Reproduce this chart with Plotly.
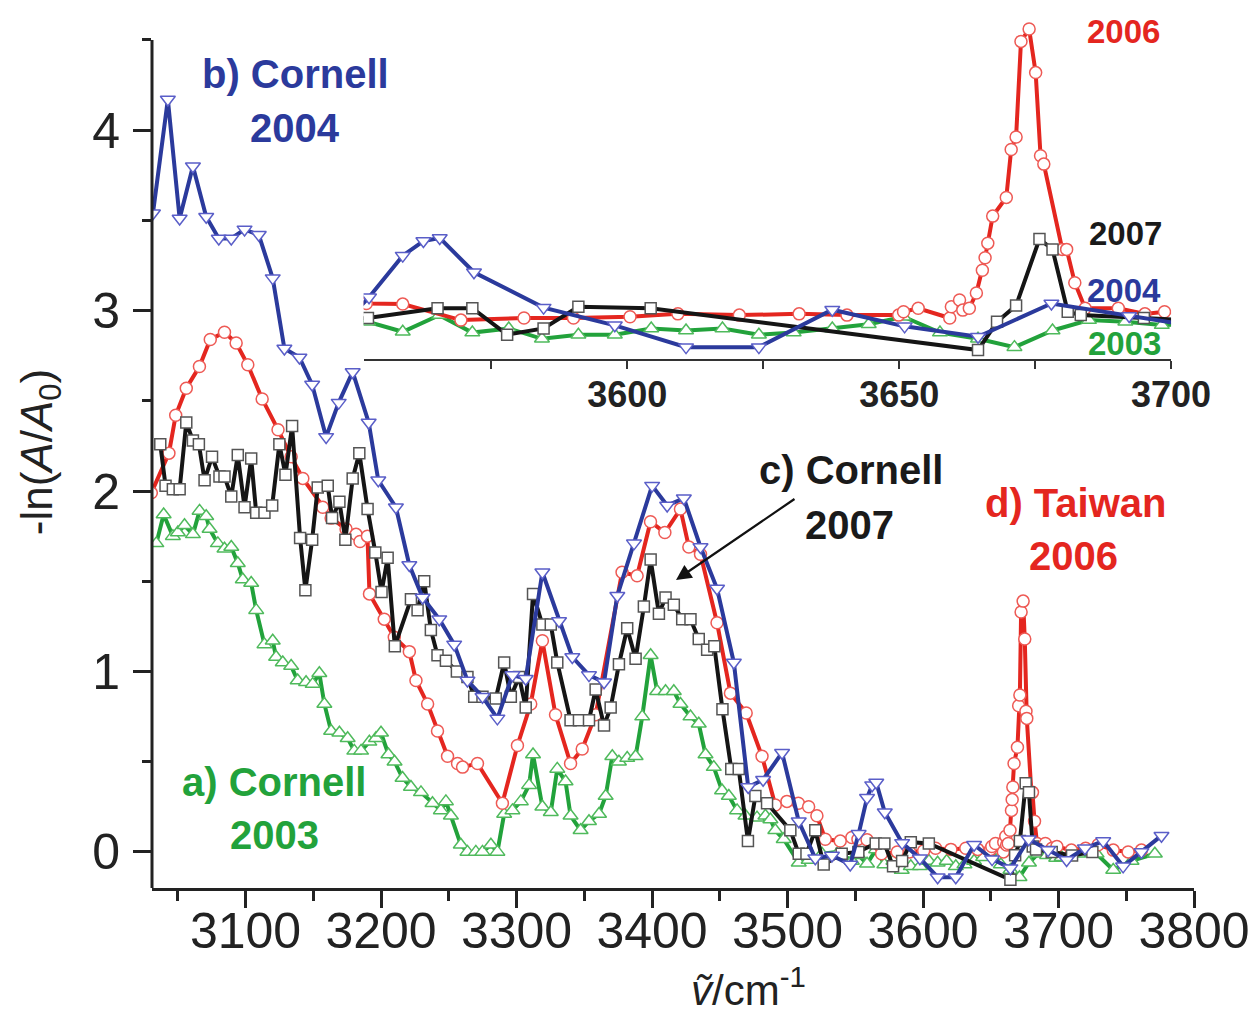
import plotly.graph_objects as go

# ---------------- data ----------------
x_2003 = [3034.2, 3039.6, 3046.4, 3050.1, 3055.0, 3061.2, 3066.1, 3071.0, 3073.5, 3079.6,
          3084.5, 3089.5, 3094.3, 3098.0, 3104.2, 3107.9, 3114.0, 3120.1, 3122.6, 3127.5,
          3133.7, 3138.5, 3144.7, 3149.6, 3154.5, 3158.2, 3163.2, 3169.3, 3175.4, 3180.3,
          3185.3, 3191.4, 3196.3, 3200.0, 3205.5, 3210.0, 3215.9, 3222.1, 3229.5, 3238.0,
          3244.2, 3247.9, 3251.6, 3258.9, 3263.8, 3270.0, 3274.9, 3281.1, 3285.9, 3290.9,
          3297.0, 3303.2, 3309.3, 3312.2, 3319.1, 3325.3, 3330.1, 3336.2, 3339.9, 3347.3,
          3353.5, 3360.9, 3365.8, 3370.7, 3375.6, 3381.7, 3387.9, 3392.8, 3399.0, 3403.8,
          3410.0, 3416.1, 3421.0, 3428.4, 3434.5, 3439.5, 3445.6, 3451.7, 3456.7, 3462.8,
          3469.0, 3477.5, 3483.7, 3487.4, 3491.0, 3497.2, 3508.3, 3515.6, 3525.4, 3537.7,
          3547.5, 3552.3, 3558.7, 3565.4, 3571.5, 3578.2, 3584.3, 3591.0, 3597.7, 3604.4,
          3610.8, 3617.5, 3624.2, 3630.6, 3637.7, 3644.4, 3650.8, 3657.5, 3664.5, 3671.2,
          3678.2, 3684.9, 3691.6, 3698.3, 3702.3, 3714.6, 3728.1, 3740.4, 3753.9, 3771.1]
y_2003 = [1.71, 1.87, 1.75, 1.77, 1.81, 1.76, 1.89, 1.86, 1.79, 1.71,
          1.68, 1.69, 1.60, 1.51, 1.49, 1.34, 1.15, 1.17, 1.08, 1.05,
          1.03, 0.95, 0.94, 0.93, 0.99, 0.82, 0.67, 0.66, 0.63, 0.56,
          0.56, 0.61, 0.63, 0.66, 0.54, 0.50, 0.41, 0.36, 0.33, 0.27,
          0.23, 0.28, 0.20, 0.04, 0.00, 0.00, 0.00, 0.04, 0.00, 0.21,
          0.23, 0.28, 0.37, 0.54, 0.25, 0.22, 0.46, 0.39, 0.20, 0.12,
          0.17, 0.21, 0.31, 0.53, 0.50, 0.52, 0.53, 0.75, 1.09, 0.89,
          0.89, 0.89, 0.82, 0.75, 0.71, 0.54, 0.47, 0.34, 0.31, 0.23,
          0.20, 0.19, 0.20, 0.18, 0.12, 0.07, -0.06, -0.045, -0.01, 0.00,
          -0.05, -0.018, -0.066, 0.014, -0.07, -0.05, -0.10, -0.08, -0.08, -0.05,
          -0.06, -0.05, -0.08, -0.07, -0.05, -0.03, 0.006, -0.07, -0.10, -0.14,
          -0.06, -0.01, -0.018, -0.034, -0.03, -0.01, -0.01, -0.10, -0.05, -0.01]

x_2004 = [3031.7, 3042.7, 3051.4, 3061.2, 3071.0, 3080.3, 3089.5, 3099.3, 3109.8, 3120.1,
          3128.7, 3139.8, 3149.2, 3159.5, 3168.8, 3179.1, 3190.9, 3198.0, 3211.0, 3220.9,
          3230.7, 3243.0, 3254.0, 3263.8, 3274.9, 3285.9, 3297.0, 3306.8, 3319.1, 3331.4,
          3341.2, 3353.5, 3364.6, 3374.4, 3386.7, 3400.1, 3411.2, 3423.5, 3435.8, 3448.0,
          3460.4, 3471.0, 3482.0, 3496.0, 3508.3, 3520.5, 3532.8, 3546.3, 3552.5, 3558.7,
          3562.5, 3565.5, 3571.8, 3584.6, 3597.7, 3610.8, 3624.2, 3637.7, 3651.0, 3664.5,
          3678.0, 3692.3, 3706.0, 3719.5, 3733.0, 3747.7, 3761.2, 3776.0]
y_2004 = [3.54, 4.17, 3.51, 3.80, 3.52, 3.40, 3.40, 3.45, 3.42, 3.18,
          2.79, 2.74, 2.59, 2.30, 2.49, 2.66, 2.38, 2.06, 1.91, 1.59,
          1.41, 1.29, 1.15, 0.95, 0.86, 0.74, 0.98, 0.96, 1.55, 1.28,
          1.08, 0.98, 0.94, 1.42, 1.71, 2.03, 1.92, 1.96, 1.69, 1.46,
          1.05, 0.36, 0.40, 0.55, 0.17, -0.035, -0.02, -0.07, 0.10, 0.30,
          0.37, 0.385, 0.22, 0.05, -0.035, -0.14, -0.14, 0.04, -0.04, -0.09,
          0.07, 0.01, -0.045, 0.02, 0.06, -0.08, 0.00, 0.09]

x_2007 = [3037.1, 3041.0, 3046.4, 3051.4, 3056.3, 3061.2, 3065.6, 3069.8, 3075.3, 3080.8,
          3084.5, 3089.5, 3094.3, 3099.3, 3104.2, 3107.9, 3114.0, 3119.7, 3125.0, 3129.5,
          3134.4, 3140.3, 3144.2, 3149.2, 3153.3, 3160.7, 3163.9, 3169.3, 3173.7, 3179.1,
          3184.0, 3190.1, 3195.8, 3200.4, 3204.9, 3210.2, 3222.1, 3227.0, 3231.9, 3236.8,
          3241.7, 3247.9, 3256.0, 3263.8, 3268.8, 3274.9, 3284.7, 3290.9, 3295.8, 3301.9,
          3306.8, 3312.2, 3319.1, 3325.3, 3330.1, 3339.9, 3346.1, 3353.5, 3358.4, 3364.6,
          3369.5, 3375.6, 3381.7, 3387.9, 3394.0, 3399.0, 3405.1, 3410.0, 3416.1, 3422.3,
          3428.4, 3434.5, 3440.7, 3446.0, 3452.0, 3458.5, 3464.0, 3470.8, 3476.3, 3484.9,
          3502.1, 3508.3, 3514.0, 3520.5, 3526.7, 3540.0, 3552.3, 3565.1, 3571.5, 3577.9,
          3584.6, 3591.0, 3604.3, 3664.5, 3668.0, 3671.5, 3675.8, 3678.2, 3681.0, 3683.4,
          3695.0, 3710.0, 3725.0]
y_2007 = [2.26, 2.03, 2.01, 2.01, 2.38, 2.28, 2.26, 2.06, 2.19, 2.08,
          2.08, 1.97, 2.20, 1.91, 2.18, 1.88, 1.88, 1.92, 2.26, 2.09,
          2.36, 1.74, 1.45, 1.73, 2.02, 2.03, 1.85, 1.94, 1.73, 2.07,
          2.21, 1.90, 1.66, 1.44, 1.63, 1.14, 1.40, 1.34, 1.50, 1.23,
          1.09, 1.06, 1.00, 0.97, 0.86, 0.86, 0.85, 1.05, 0.86, 0.97,
          0.80, 1.43, 1.26, 1.26, 1.05, 0.73, 0.73, 0.73, 0.90, 0.70,
          0.80, 1.04, 1.24, 1.07, 1.36, 1.62, 1.32, 1.41, 1.37, 1.29,
          1.29, 1.18, 1.12, 1.14, 0.79, 0.46, 0.46, 0.06, 0.31, 0.27,
          0.12, -0.01, -0.01, 0.12, -0.07, -0.01, 0.00, 0.047, 0.047, -0.08,
          -0.05, 0.054, 0.047, -0.154, -0.018, 0.06, 0.38, 0.33, 0.03, 0.014,
          0.00, -0.02, 0.00]

x_2006 = [3030.5, 3043.5, 3048.5, 3056.3, 3066.0, 3074.0, 3084.5, 3093.1, 3101.7, 3112.3,
          3124.0, 3133.7, 3142.3, 3157.0, 3163.2, 3174.2, 3181.6, 3184.5, 3190.0, 3191.5,
          3202.4, 3209.8, 3220.9, 3225.8, 3234.4, 3241.7, 3249.1, 3256.5, 3260.2, 3271.2,
          3289.6, 3300.7, 3310.5, 3319.1, 3328.8, 3339.9, 3348.5, 3358.4, 3377.9, 3389.0,
          3398.9, 3409.5, 3421.0, 3427.2, 3435.8, 3448.0, 3457.9, 3469.5, 3481.2, 3491.0,
          3499.6, 3508.0, 3515.6, 3521.7, 3527.9, 3538.9, 3547.5, 3552.0, 3558.7, 3569.4,
          3581.0, 3590.1, 3600.5, 3609.3, 3620.6, 3631.6, 3640.4, 3649.9, 3650.8, 3653.5,
          3659.3, 3659.6, 3661.1, 3661.7, 3662.9, 3664.2, 3665.3, 3665.8, 3666.3, 3667.2,
          3669.7, 3670.6, 3671.5, 3672.4, 3673.9, 3675.1, 3676.0, 3676.6, 3680.0, 3680.8,
          3682.3, 3684.2, 3690.3, 3695.2, 3698.8, 3709.5, 3720.0, 3729.3, 3740.4, 3751.4,
          3761.2]
y_2006 = [1.99, 2.21, 2.42, 2.57, 2.69, 2.84, 2.88, 2.82, 2.70, 2.51,
          2.34, 2.19, 2.07, 1.91, 1.85, 1.79, 1.76, 1.72, 1.75, 1.43,
          1.29, 1.19, 1.11, 0.95, 0.82, 0.67, 0.53, 0.49, 0.47, 0.49,
          0.27, 0.59, 0.82, 1.17, 0.76, 0.49, 0.57, 0.76, 1.55, 1.53,
          1.83, 1.77, 1.90, 1.69, 1.65, 1.27, 0.88, 0.77, 0.53, 0.26,
          0.28, 0.27, 0.25, 0.20, 0.07, 0.06, 0.08, 0.07, 0.067, -0.01,
          0.00, 0.00, 0.006, 0.02, 0.014, 0.02, 0.014, 0.014, 0.03, 0.047,
          0.00, 0.054, 0.087, 0.038, 0.047, 0.12, 0.23, 0.29, 0.36, 0.49,
          0.58, 0.81, 0.87, 1.33, 1.39, 1.18, 0.78, 0.74, 0.33, 0.33,
          0.17, 0.047, 0.047, 0.02, 0.03, 0.01, 0.02, 0.04, 0.01, 0.00,
          0.01]

x_ticks_main = [3100, 3200, 3300, 3400, 3500, 3600, 3700, 3800]
y_ticks_main = [0, 1, 2, 3, 4]
x_ticks_inset = [3600, 3650, 3700]

FONT = "Liberation Sans, Arial, Helvetica, sans-serif"

series = [
    # name, x, y, line colour, marker edge colour, symbol, size
    ("2003", x_2003, y_2003, "#22a23b", "#4fba5c", "triangle-up", 13),
    ("2006", x_2006, y_2006, "#e4261f", "#ee5a55", "circle", 12),
    ("2007", x_2007, y_2007, "#151515", "#555555", "square", 11),
    ("2004", x_2004, y_2004, "#2b3a9c", "#5a5ec8", "triangle-down", 13),
]

fig = go.Figure()
for axes in (("x", "y"), ("x2", "y2")):
    for name, xs, ys, lc, mc, sym, sz in series:
        fig.add_trace(go.Scatter(
            x=xs, y=ys, mode="lines+markers", name=name,
            xaxis=axes[0], yaxis=axes[1],
            line=dict(color=lc, width=4),
            marker=dict(symbol=sym, size=sz, color="white",
                        line=dict(color=mc, width=1.5)),
            showlegend=False, hoverinfo="skip"))

# pixel helpers for annotation placement (plot area: x 152..1196, y 10..888)
def px(xp):
    return (xp - 152) / 1044.0

def py(yp):
    return (888 - yp) / 878.0

ann = []
def label(text, xp, yp, color, size):
    ann.append(dict(text="<b>%s</b>" % text, x=px(xp), y=py(yp), xref="paper", yref="paper",
                    xanchor="center", yanchor="middle", showarrow=False,
                    font=dict(family=FONT, size=size, color=color)))

BLUE, GREEN, BLACK, RED = "#2b3a9c", "#22a23b", "#1a1a1a", "#e4261f"
label("b) Cornell", 296, 74, BLUE, 40)
label("2004", 295, 128, BLUE, 40)
label("a) Cornell", 274, 782, GREEN, 40)
label("2003", 275, 835, GREEN, 40)
label("c) Cornell", 852, 470, BLACK, 40)
label("2007", 851, 525, BLACK, 40)
label("d) Taiwan", 1077, 503, RED, 40)
label("2006", 1075, 556, RED, 40)
# inset labels
label("2006", 1125, 31, RED, 33)
label("2007", 1127, 234, BLACK, 33)
label("2004", 1126, 290, BLUE, 33)
label("2003", 1126, 344, GREEN, 33)

# arrow pointing to trace c
ann.append(dict(text="", x=px(677), y=py(580), xref="paper", yref="paper",
                ax=120, ay=-82, axref="pixel", ayref="pixel", showarrow=True,
                arrowhead=2, arrowsize=1.4, arrowwidth=2.2, arrowcolor="#111"))

# axis titles
ann.append(dict(text="<i>ṽ</i>/cm<sup>-1</sup>", x=px(750), y=py(1016), xref="paper", yref="paper",
                xanchor="center", yanchor="bottom", showarrow=False,
                font=dict(family=FONT, size=42, color="#222")))
ann.append(dict(text="-ln(<i>A</i>/<i>A</i><sub>0</sub>)", x=px(40), y=py(452), xref="paper",
                yref="paper", xanchor="center", yanchor="middle", textangle=-90,
                showarrow=False, font=dict(family=FONT, size=44, color="#222")))

fig.update_layout(
    width=1260, height=1019,
    margin=dict(l=152, r=64, t=10, b=131),
    paper_bgcolor="white", plot_bgcolor="white",
    showlegend=False,
    xaxis=dict(domain=[0, 1], anchor="y", range=[3031, 3800],
               tickvals=x_ticks_main, ticktext=[str(v) for v in x_ticks_main],
               showline=True, linecolor="#222", linewidth=3, mirror=False,
               ticks="outside", ticklen=17, tickwidth=3, tickcolor="#222",
               minor=dict(dtick=50, tick0=3050, ticks="outside", ticklen=10, tickwidth=3, tickcolor="#222"),
               tickfont=dict(family=FONT, size=50, color="#222"),
               ticklabelstandoff=-20,
               showgrid=False, zeroline=False),
    yaxis=dict(domain=[0, 1], anchor="x", range=[-0.2, 4.666],
               tickvals=y_ticks_main, ticktext=[str(v) for v in y_ticks_main],
               showline=False, ticks="outside", ticklen=18, tickwidth=3, tickcolor="#222",
               minor=dict(dtick=0.5, tick0=0, ticks="outside", ticklen=9, tickwidth=3, tickcolor="#222"),
               tickfont=dict(family=FONT, size=50, color="#222"),
               ticklabelstandoff=3,
               showgrid=False, zeroline=False),
    xaxis2=dict(domain=[px(364), px(1173)], anchor="y2", range=[3551.5, 3700],
                tickvals=x_ticks_inset, ticktext=[str(v) for v in x_ticks_inset],
                showline=True, linecolor="#333", linewidth=2,
                ticks="outside", ticklen=8, tickwidth=2, tickcolor="#333",
                minor=dict(dtick=25, tick0=3575, ticks="outside", ticklen=8, tickwidth=2, tickcolor="#333"),
                tickfont=dict(family=FONT, size=36, color="#222", weight="bold"),
                ticklabelstandoff=-5,
                showgrid=False, zeroline=False),
    yaxis2=dict(domain=[py(359), 1.0], anchor="x2", range=[-0.197, 1.481],
                visible=False, showgrid=False, zeroline=False),
    annotations=ann,
    shapes=[dict(type="line", xref="paper", yref="y", x0=0, x1=0, y0=-0.2, y1=4.5,
                 line=dict(color="#222", width=3))],
)

fig.write_html("out.html", config={"displayModeBar": False},
               post_script="document.body.style.margin='0';document.body.style.overflow='hidden';")
